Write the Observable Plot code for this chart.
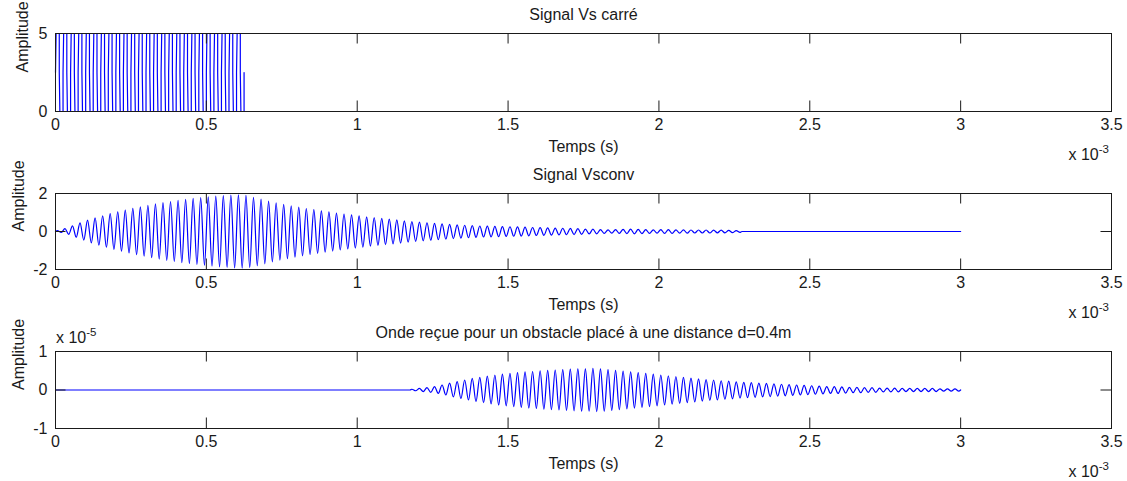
<!DOCTYPE html>
<html><head><meta charset="utf-8">
<script src="https://cdn.jsdelivr.net/npm/d3@7"></script>
<script src="https://cdn.jsdelivr.net/npm/@observablehq/plot@0.6"></script>
<style>
html,body{margin:0;padding:0;background:#fff;}
#chart svg{display:block;overflow:visible;}
</style></head><body><div id="chart"></div>
<script>
// ---- data (times in ms, i.e. x 10^-3 s) ----
const xTicks = [0, 0.5, 1, 1.5, 2, 2.5, 3, 3.5];
const xDomain = [0, 3.5];
const halfPeriod = 0.0125;          // 40 kHz carrier, half period in ms

// Plot 1 : Signal Vs carré (level of each half period)
const vsLevels = [5,0,5,0,5,0,5,0,5,0, 5,0,5,0,5,0,5,0,5,0,
                  5,0,5,0,5,0,5,0,5,0, 5,0,5,0,5,0,5,0,5,0,
                  5,0,5,0,5,0,5,0,5,0];
const vsMidLevel = 2.5;
const vsYTicks = [0, 5];
const vsYDomain = [0, 5];

// Plot 2 : Signal Vsconv (peak amplitude of each carrier cycle, from t=0)
const vsconvStart = 0;
const vsconvAmp = [0.05,0.15,0.3,0.45,0.6,0.72,0.83,0.94,1.04,1.13,
  1.22,1.3,1.38,1.45,1.52,1.58,1.64,1.69,1.74,1.78,
  1.82,1.86,1.89,1.92,1.93,1.9,1.8,1.7,1.6,1.51,
  1.43,1.35,1.28,1.21,1.15,1.09,1.03,0.97,0.92,0.87,
  0.82,0.77,0.73,0.69,0.65,0.61,0.56,0.52,0.49,0.46,
  0.43,0.4,0.37,0.35,0.33,0.31,0.29,0.28,0.27,0.26,
  0.25,0.24,0.23,0.21,0.2,0.19,0.18,0.17,0.16,0.15,
  0.13,0.12,0.1,0.09,0.1,0.11,0.12,0.11,0.1,0.09,
  0.1,0.1,0.09,0.09,0.08,0.08,0.08,0.07,0.07,0.06,0.05];
const vsconvEnd = 3;
const vsconvYTicks = [-2, 0, 2];
const vsconvYDomain = [-2, 2];

// Plot 3 : Onde reçue (peak amplitude per cycle, x 10^-5)
const recuStart = 1.175;
const recuAmp = [0.02,0.04,0.06,0.09,0.13,0.18,0.22,0.26,0.3,0.33,
  0.36,0.39,0.41,0.43,0.45,0.47,0.48,0.5,0.51,0.52,
  0.53,0.54,0.55,0.55,0.56,0.55,0.53,0.51,0.49,0.47,
  0.45,0.43,0.41,0.39,0.37,0.35,0.33,0.31,0.29,0.27,
  0.26,0.24,0.23,0.21,0.2,0.19,0.18,0.17,0.16,0.15,
  0.14,0.13,0.12,0.11,0.1,0.09,0.09,0.08,0.07,0.07,
  0.06,0.06,0.05,0.05,0.05,0.04,0.04,0.04,0.04,0.04,
  0.03,0.03,0.03];
const recuEnd = 3;
const recuYTicks = [-1, 0, 1];
const recuYDomain = [-1, 1];

const titles = ["Signal Vs carré", "Signal Vsconv", "Onde reçue pour un obstacle placé à une distance d=0.4m"];
const xLabel = "Temps (s)";
const yLabel = "Amplitude";
const xExp = "-3";
const yExp3 = "-5";

// ---- build point tables ----
function squareTable(levels, h, mid) {
  const pts = [];
  const dt = 0.002;
  levels.forEach((L, k) => {
    const t = k * h;
    pts.push({t, v: mid});
    pts.push({t: t + dt, v: L});
    pts.push({t: (k + 1) * h, v: L});
  });
  pts.push({t: levels.length * h, v: mid});
  return pts;
}
function burstTable(start, amps, h, end) {
  const pts = [{t: 0, v: 0}];
  if (start > 0) pts.push({t: start, v: 0});
  amps.forEach((a, i) => {
    pts.push({t: start + (2 * i + 0.5) * h, v: a});
    pts.push({t: start + (2 * i + 1.5) * h, v: -a});
  });
  const stop = start + amps.length * 2 * h;
  pts.push({t: stop, v: 0});
  if (end > stop) pts.push({t: end, v: 0});
  return pts;
}

const W = 1127, ML = 55, MR = 16;
const FONT = "Liberation Sans, Arial, Helvetica, sans-serif";
const INK = "#1a1a1a";
const TL = 10.5;

function panel({data, curve, yDomain, yTicks, title, height, mt, plotH, ylabDx, yExp}) {
  const mb = height - mt - plotH;
  const plotW = W - ML - MR;
  const svg = Plot.plot({
    width: W, height,
    marginLeft: ML, marginRight: MR, marginTop: mt, marginBottom: mb,
    style: {fontFamily: FONT, fontSize: "16px", color: INK, background: "#fff", overflow: "visible"},
    x: {domain: xDomain, label: null},
    y: {domain: yDomain, label: null},
    marks: [
      Plot.line(data, {x: "t", y: "v", stroke: "#0000ff", strokeWidth: 1.2, curve}),
      Plot.tickX(xTicks, {x: d => d, stroke: INK, insetTop: plotH - TL}),
      Plot.tickX(xTicks, {x: d => d, stroke: INK, insetBottom: plotH - TL}),
      Plot.tickY(yTicks, {y: d => d, stroke: INK, insetRight: plotW - TL}),
      Plot.tickY(yTicks, {y: d => d, stroke: INK, insetLeft: plotW - TL}),
      Plot.frame({stroke: INK}),
      Plot.axisX({ticks: xTicks, tickSize: 0, tickPadding: 7, tickFormat: d => String(d), fontSize: 16, fill: INK, label: null}),
      Plot.axisY({ticks: yTicks, tickSize: 0, tickPadding: 8, tickFormat: d => String(d), fontSize: 16, fill: INK, label: null}),
      Plot.text([title], {frameAnchor: "top", dy: -24.5, lineAnchor: "top", fontSize: 16, fill: INK}),
      Plot.text([xLabel], {frameAnchor: "bottom", dy: 28.7, lineAnchor: "top", fontSize: 16, fill: INK}),
      Plot.text([yLabel], {frameAnchor: "left", dx: ylabDx, rotate: -90, fontSize: 16, fill: INK})
    ]
  });
  const s = d3.select(svg);
  const tx = s.append("text").attr("font-family", FONT).attr("font-size", 16).attr("fill", INK)
    .attr("text-anchor", "end").attr("x", W - MR - 2).attr("y", mt + plotH + 48.7);
  tx.append("tspan").text("x 10");
  tx.append("tspan").attr("font-size", 11.5).attr("dy", -6.7).text(xExp);
  if (yExp) {
    const ty = s.append("text").attr("font-family", FONT).attr("font-size", 16).attr("fill", INK)
      .attr("text-anchor", "start").attr("x", ML + 1).attr("y", mt - 8);
    ty.append("tspan").text("x 10");
    ty.append("tspan").attr("font-size", 11.5).attr("dy", -6.7).text(yExp);
  }
  return svg;
}

const root = document.getElementById("chart");
root.append(panel({data: squareTable(vsLevels, halfPeriod, vsMidLevel), curve: "linear",
  yDomain: vsYDomain, yTicks: vsYTicks, title: titles[0], height: 165, mt: 33, plotH: 78, ylabDx: -33}));
root.append(panel({data: burstTable(vsconvStart, vsconvAmp, halfPeriod, vsconvEnd), curve: "monotone-x",
  yDomain: vsconvYDomain, yTicks: vsconvYTicks, title: titles[1], height: 157, mt: 28, plotH: 76, ylabDx: -37}));
root.append(panel({data: burstTable(recuStart, recuAmp, halfPeriod, recuEnd), curve: "monotone-x",
  yDomain: recuYDomain, yTicks: recuYTicks, title: titles[2], height: 159, mt: 29, plotH: 77, ylabDx: -37, yExp: yExp3}));
</script></body></html>
